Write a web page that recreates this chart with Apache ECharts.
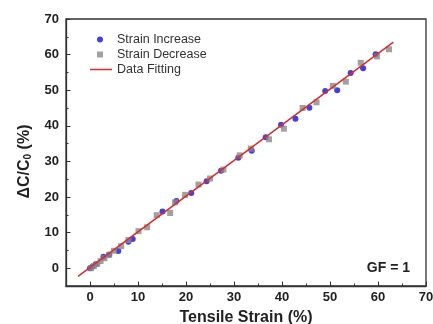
<!DOCTYPE html>
<html>
<head>
<meta charset="utf-8">
<script src="https://cdn.jsdelivr.net/npm/echarts@6/dist/echarts.min.js"></script>
<style>
  html, body { margin: 0; padding: 0; background: #fff; }
  #chart { width: 433px; height: 324px; }
</style>
</head>
<body>
<div id="chart"></div>
<script>
// strain (%) vs capacitance change (%)
const strainIncrease = [
  [0, 0], [0.5, 0.4], [1.2, 1.1], [2.8, 3.2], [4, 3.8], [5.9, 4.8],
  [8, 7.4], [8.9, 8.2], [15.1, 15.9], [18, 18.9], [21.1, 21.1],
  [24.3, 24.4], [27.3, 27.4], [30.9, 31], [33.7, 33], [36.6, 36.8],
  [39.8, 40.3], [42.8, 42], [45.7, 45.1], [49, 49.8], [51.5, 50],
  [54.3, 54.8], [56.9, 56.2], [59.5, 60.1]
];
const strainDecrease = [
  [0.2, 0], [0.8, 0.6], [1.5, 1.2], [2.2, 2], [3, 2.8], [4, 3.8],
  [5, 4.9], [6.5, 6.2], [8, 7.9], [10.1, 10.4], [11.9, 11.5],
  [13.9, 14.9], [16.7, 15.5], [17.7, 18.5], [19.8, 20.6], [22.6, 23.5],
  [25, 25.2], [27.8, 27.7], [31.2, 31.7], [33.5, 33.6], [37.3, 36.2],
  [40.4, 39.2], [44.3, 45], [47.2, 46.6], [50.6, 51.2], [53.3, 52.4],
  [56.4, 57.7], [59.8, 59.5], [62.3, 61.5]
];
const dataFitting = [[-2.5, -2.3], [63.2, 63.5]];
const majorTicks = [0, 10, 20, 30, 40, 50, 60, 70];
const minorTicks = [5, 15, 25, 35, 45, 55, 65];

const chart = echarts.init(document.getElementById("chart"));

const font = "Liberation Sans";
const labelStyle = {
  color: "#222",
  fontFamily: font,
  fontWeight: "bold",
  fontSize: 13,
  customValues: majorTicks
};
const nameStyle = { color: "#222", fontFamily: font, fontWeight: "bold", fontSize: 16 };
const axisLine = { onZero: false, lineStyle: { color: "#333", width: 1.3 } };

// main axes carry labels and major ticks, the extra ones only minor ticks
function minorAxis(pos) {
  return {
    type: "value", min: -5, max: 70, interval: 5, position: pos,
    axisLine: { show: false, onZero: false },
    axisTick: { inside: true, length: 2.5, customValues: minorTicks, lineStyle: { color: "#333" } },
    axisLabel: { show: false },
    splitLine: { show: false }
  };
}

chart.setOption({
  animation: false,
  grid: {
    left: 66, right: 7, top: 19, bottom: 38,
    outerBoundsMode: "none",
    containLabel: false,
    show: true,
    borderColor: "#333",
    borderWidth: 1.3
  },
  legend: [
    {
      orient: "vertical",
      left: 92,
      top: 27,
      itemWidth: 6,
      itemHeight: 6,
      itemGap: 0,
      textStyle: { color: "#333", fontFamily: font, fontSize: 12.5, lineHeight: 15, padding: [0, 0, 0, 9] },
      data: [
        { name: "Strain Increase", icon: "circle" },
        { name: "Strain Decrease", icon: "rect" }
      ]
    },
    {
      orient: "vertical",
      left: 85,
      top: 57,
      itemWidth: 22,
      itemHeight: 1.5,
      textStyle: { color: "#333", fontFamily: font, fontSize: 12.5, lineHeight: 15 },
      data: [{ name: "Data Fitting", icon: "rect" }]
    }
  ],
  xAxis: [
    {
      type: "value",
      min: -5, max: 70, interval: 5,
      name: "Tensile Strain (%)",
      nameLocation: "middle",
      nameGap: 24,
      nameTextStyle: nameStyle,
      axisLine: axisLine,
      axisTick: { inside: true, length: 4.5, customValues: majorTicks, lineStyle: { color: "#333" } },
      axisLabel: Object.assign({ margin: 5 }, labelStyle),
      splitLine: { show: false }
    },
    minorAxis("bottom")
  ],
  yAxis: [
    {
      type: "value",
      min: -5, max: 70, interval: 5,
      name: "ΔC/C{sub|0} (%)",
      nameLocation: "middle",
      nameGap: 31,
      nameTextStyle: Object.assign({
        padding: [0, 18, 0, 0],
        rich: { sub: { fontSize: 10, fontWeight: "bold", color: "#222", fontFamily: font, padding: [8, 0, 0, 0] } }
      }, nameStyle),
      axisLine: axisLine,
      axisTick: { inside: true, length: 4.5, customValues: majorTicks, lineStyle: { color: "#333" } },
      axisLabel: Object.assign({ margin: 7 }, labelStyle),
      splitLine: { show: false }
    },
    minorAxis("left")
  ],
  series: [
    {
      name: "Strain Increase",
      type: "scatter",
      symbol: "circle",
      symbolSize: 6,
      itemStyle: { color: "#1212d8" },
      data: strainIncrease,
      z: 2
    },
    {
      name: "Strain Decrease",
      type: "scatter",
      symbol: "rect",
      symbolSize: 6,
      itemStyle: { color: "#8a8a8a" },
      data: strainDecrease,
      z: 2
    },
    {
      name: "Data Fitting",
      type: "line",
      symbol: "none",
      lineStyle: { color: "#e02828", width: 1.5 },
      itemStyle: { color: "#e02828" },
      data: dataFitting,
      z: 3
    }
  ],
  graphic: [{
    type: "text",
    right: 23,
    top: 261,
    style: { text: "GF = 1", fill: "#222", font: "bold 14px 'Liberation Sans'" }
  }]
});
</script>
</body>
</html>
